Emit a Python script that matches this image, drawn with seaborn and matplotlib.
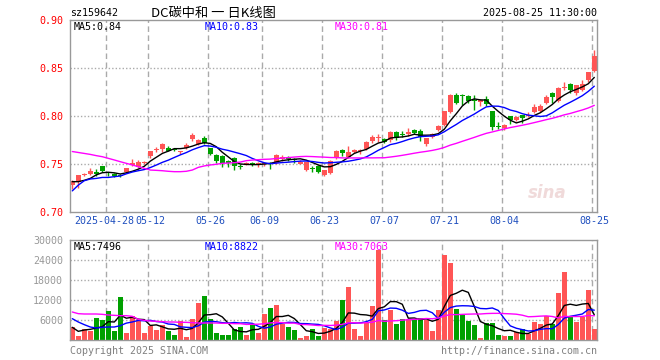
import numpy as np
import pandas as pd
import matplotlib
matplotlib.use("Agg")
import matplotlib.pyplot as plt
import matplotlib.transforms as mtransforms
import seaborn as sns

# ---------------- data ----------------
opens = [0.728, 0.7316, 0.739, 0.740, 0.742, 0.748, 0.742, 0.740, 0.739, 0.742,
         0.749, 0.747, 0.751, 0.758, 0.765, 0.766, 0.767, 0.766, 0.763, 0.767,
         0.776, 0.771, 0.777, 0.767, 0.759, 0.758, 0.753, 0.756, 0.748, 0.749,
         0.751, 0.749, 0.750, 0.751, 0.751, 0.755, 0.756, 0.755, 0.750, 0.744,
         0.746, 0.748, 0.739, 0.741, 0.756, 0.765, 0.757, 0.763, 0.764, 0.766,
         0.774, 0.777, 0.776, 0.775, 0.783, 0.781, 0.781, 0.785, 0.784, 0.7705,
         0.778, 0.785, 0.791, 0.804, 0.822, 0.822, 0.821, 0.817, 0.815, 0.818,
         0.805, 0.790, 0.787, 0.800, 0.796, 0.801, 0.800, 0.8045, 0.805, 0.814,
         0.824, 0.816, 0.829, 0.833, 0.824, 0.827, 0.837, 0.847]
highs = [0.733, 0.739, 0.741, 0.746, 0.745, 0.748, 0.742, 0.741, 0.740, 0.746,
         0.755, 0.754, 0.753, 0.764, 0.768, 0.772, 0.769, 0.767, 0.764, 0.772,
         0.782, 0.776, 0.779, 0.767, 0.760, 0.759, 0.754, 0.757, 0.750, 0.752,
         0.752, 0.752, 0.751, 0.752, 0.760, 0.759, 0.758, 0.756, 0.754, 0.752,
         0.748, 0.749, 0.744, 0.754, 0.765, 0.766, 0.769, 0.766, 0.766, 0.774,
         0.780, 0.781, 0.777, 0.784, 0.784, 0.784, 0.788, 0.786, 0.786, 0.777,
         0.782, 0.791, 0.805, 0.823, 0.824, 0.823, 0.822, 0.822, 0.818, 0.821,
         0.805, 0.794, 0.792, 0.800, 0.800, 0.801, 0.804, 0.812, 0.812, 0.822,
         0.825, 0.830, 0.835, 0.834, 0.832, 0.8375, 0.846, 0.869]
lows = [0.724, 0.725, 0.738, 0.739, 0.738, 0.742, 0.738, 0.736, 0.736, 0.741,
        0.748, 0.746, 0.750, 0.756, 0.763, 0.763, 0.764, 0.764, 0.760, 0.766,
        0.774, 0.770, 0.771, 0.759, 0.751, 0.747, 0.747, 0.744, 0.745, 0.749,
        0.748, 0.747, 0.748, 0.745, 0.750, 0.753, 0.753, 0.751, 0.750, 0.743,
        0.742, 0.741, 0.738, 0.740, 0.755, 0.758, 0.756, 0.761, 0.760, 0.765,
        0.772, 0.773, 0.772, 0.773, 0.775, 0.778, 0.779, 0.781, 0.774, 0.769,
        0.777, 0.784, 0.790, 0.803, 0.813, 0.8115, 0.814, 0.806, 0.810, 0.810,
        0.785, 0.786, 0.785, 0.792, 0.795, 0.793, 0.799, 0.8035, 0.804, 0.812,
        0.814, 0.815, 0.827, 0.824, 0.822, 0.826, 0.835, 0.846]
closes = [0.732, 0.7385, 0.740, 0.743, 0.740, 0.743, 0.741, 0.737, 0.737, 0.746,
          0.751, 0.752, 0.752, 0.764, 0.766, 0.771, 0.764, 0.765, 0.764, 0.770,
          0.780, 0.775, 0.772, 0.760, 0.753, 0.751, 0.751, 0.748, 0.747, 0.751,
          0.750, 0.751, 0.751, 0.750, 0.759, 0.757, 0.755, 0.754, 0.752, 0.752,
          0.745, 0.742, 0.744, 0.753, 0.764, 0.761, 0.762, 0.765, 0.765, 0.773,
          0.778, 0.778, 0.773, 0.783, 0.777, 0.780, 0.783, 0.782, 0.778, 0.777,
          0.781, 0.790, 0.805, 0.822, 0.814, 0.821, 0.816, 0.816, 0.817, 0.813,
          0.789, 0.789, 0.791, 0.796, 0.799, 0.798, 0.801, 0.809, 0.810, 0.820,
          0.820, 0.8295, 0.830, 0.827, 0.832, 0.833, 0.846, 0.863]
volumes = [3800, 1300, 3300, 2800, 6700, 5900, 8800, 2800, 13000, 2200,
           7300, 5900, 2200, 4200, 3100, 4400, 2800, 1600, 5800, 800,
           6400, 11200, 13300, 6300, 2200, 1600, 1600, 3400, 4000, 1600,
           4800, 2200, 7900, 9700, 10600, 4800, 4000, 3100, 700, 1300,
           3400, 1300, 3700, 3400, 5600, 12100, 15800, 3400, 1300, 5000,
           10300, 27100, 6100, 9100, 4900, 6400, 6200, 6400, 6600, 6100,
           2800, 9100, 25600, 23200, 9400, 7400, 5800, 4600, 600, 5200,
           5200, 1600, 1300, 1300, 2300, 3200, 1700, 5300, 4900, 7300,
           4900, 14200, 20500, 6800, 5500, 6900, 15100, 3400]

# moving-average values at the left edge (their windows start before the chart)
ma5_lead = [0.7316, 0.7316, 0.733, 0.735]
ma10_lead = [0.722, 0.728, 0.7326, 0.7344, 0.735, 0.736, 0.736, 0.7368, 0.7375]
ma30_lead = [0.763, 0.762, 0.761, 0.760, 0.7587, 0.7576, 0.7559, 0.7542, 0.7524, 0.7507,
             0.749, 0.7472, 0.7455, 0.7437, 0.7434, 0.743, 0.7424, 0.742, 0.742, 0.7424,
             0.7437, 0.7465, 0.748, 0.749, 0.7497, 0.7507, 0.751, 0.7514, 0.752]
vma5_lead = [3800, 2600, 3000, 3200]
vma10_lead = [6400, 5400, 4600, 3900, 3600, 3800, 3900, 3900, 4300]
vma30_lead = [8400, 7900, 7800, 7800, 7800, 7700, 7500, 7400, 7300, 7300,
              7100, 6200, 5900, 5700, 5600, 5500, 5400, 5400, 5300, 5300,
              5200, 5100, 5100, 5100, 5100, 5000, 5000, 4900, 4900]

date_ticks = [6, 13, 23, 32, 42, 52, 62, 72, 87]
date_labels = ["2025-04-28", "05-12", "05-26", "06-09", "06-23", "07-07", "07-21", "08-04", "08-25"]
price_ticks = [0.70, 0.75, 0.80, 0.85, 0.90]
price_labels = ["0.70", "0.75", "0.80", "0.85", "0.90"]
vol_ticks = [6000, 12000, 18000, 24000, 30000]
vol_labels = ["6000", "12000", "18000", "24000", "30000"]
price_ma_texts = ["MA5:0.84", "MA10:0.83", "MA30:0.81"]
vol_ma_texts = ["MA5:7496", "MA10:8822", "MA30:7063"]

# ---------------- styling ----------------
sns.set_theme(style="white")
plt.rcParams["font.family"] = ["DejaVu Sans Mono", "Noto Sans CJK SC"]

RED = "#ff5555"
GREEN = "#00a000"
GRID = "#aaaaaa"
MA_COLORS = ["#000000", "#0000ff", "#ff00ff"]
FS = 7.2

n = len(closes)
idx = np.arange(n)
o = np.array(opens); c = np.array(closes)
h = np.array(highs); l = np.array(lows)
v = np.array(volumes)
colors = [RED if cc >= oo else GREEN for oo, cc in zip(o, c)]


def moving(series, w, lead):
    s = pd.Series(series, dtype=float).rolling(w).mean().to_numpy()
    s[:w - 1] = lead
    return s


ma = [moving(c, 5, ma5_lead), moving(c, 10, ma10_lead), moving(c, 30, ma30_lead)]
vma = [moving(v, 5, vma5_lead), moving(v, 10, vma10_lead), moving(v, 30, vma30_lead)]

W, H = 660, 360
fig = plt.figure(figsize=(6.6, 3.6), dpi=100)
fig.patch.set_facecolor("white")
L, R = 70, 597
ax1 = fig.add_axes([L / W, (H - 212) / H, (R - L) / W, 192 / H])
ax2 = fig.add_axes([L / W, (H - 340) / H, (R - L) / W, 100 / H])

xlim = (-0.383, 87.45)
for ax in (ax1, ax2):
    ax.set_xlim(*xlim)
    ax.set_facecolor("white")
    for s in ax.spines.values():
        s.set_color("#999999")
        s.set_linewidth(1.0)
    ax.tick_params(length=0)
    for t in date_ticks:
        ax.axvline(t - 0.33, color=GRID, lw=1.0, ls=(0, (4, 2.5)), zorder=0)

# ---- price panel ----
ax1.set_ylim(0.70, 0.90)
for yv in price_ticks[1:-1]:
    ax1.axhline(yv, color=GRID, lw=1.0, ls=(0, (1, 1.5)), zorder=0)
ax1.vlines(idx, l, h, colors=colors, lw=1.0, zorder=2)
body_bottom = np.minimum(o, c)
body_h = np.maximum(np.abs(c - o), 0.0008)
ax1.bar(idx, body_h, bottom=body_bottom, width=0.8, color=colors, linewidth=0, zorder=2)
for series, col in zip(ma, MA_COLORS):
    sns.lineplot(x=idx, y=series, color=col, lw=1.0, ax=ax1, zorder=3)
ax1.set_yticks(price_ticks)
ax1.set_yticklabels(price_labels, color="#ff0000", fontsize=FS)
ax1.set_xticks(date_ticks)
ax1.set_xticklabels(date_labels, color="#1f4fbf", fontsize=FS)
ax1.tick_params(axis="x", pad=3)
ax1.tick_params(axis="y", pad=5)
ax1.set_xlabel(""); ax1.set_ylabel("")
# nudge the long first date label left so it does not run into "05-12"
first = ax1.get_xticklabels()[0]
first.set_transform(first.get_transform() +
                    mtransforms.ScaledTranslation(-4 / 100, 0, fig.dpi_scale_trans))
for txt, col, xp in zip(price_ma_texts, MA_COLORS, [74, 205, 335]):
    ax1.text((xp - L) / (R - L), 0.965, txt, transform=ax1.transAxes, color=col,
             fontsize=FS, ha="left", va="center")
ax1.text(0.905, 0.1, "sina", transform=ax1.transAxes, color="#f0dada", fontsize=12,
         fontweight="bold", style="italic", family="DejaVu Sans", ha="center", va="center")

# ---- volume panel ----
ax2.set_ylim(0, 30000)
for yv in vol_ticks[:-1]:
    ax2.axhline(yv, color=GRID, lw=1.0, ls=(0, (1, 1.5)), zorder=0)
ax2.bar(idx, v, width=0.8, color=colors, linewidth=0, zorder=2)
for series, col in zip(vma, MA_COLORS):
    sns.lineplot(x=idx, y=series, color=col, lw=1.0, ax=ax2, zorder=3)
ax2.set_yticks(vol_ticks)
ax2.set_yticklabels(vol_labels, color="#999999", fontsize=FS)
ax2.tick_params(axis="y", pad=5)
ax2.set_xticks([])
ax2.set_xlabel(""); ax2.set_ylabel("")
for txt, col, xp in zip(vol_ma_texts, MA_COLORS, [74, 205, 335]):
    ax2.text((xp - L) / (R - L), 0.93, txt, transform=ax2.transAxes, color=col,
             fontsize=FS, ha="left", va="center")

# ---- header / footer ----
fig.text(L / W, 1 - 13 / H, "sz159642", fontsize=FS, color="black", ha="left", va="center")
fig.text(213 / W, 1 - 13 / H, "DC碳中和 一 日K线图", fontsize=9.5, color="black",
         ha="center", va="center", family=["Noto Sans CJK SC", "DejaVu Sans"])
fig.text(R / W, 1 - 13 / H, "2025-08-25 11:30:00", fontsize=FS, color="black", ha="right", va="center")
fig.text(L / W, 1 - 351 / H, "Copyright 2025 SINA.COM", fontsize=FS, color="#808080", ha="left", va="center")
fig.text(R / W, 1 - 351 / H, "http://finance.sina.com.cn", fontsize=FS, color="#808080", ha="right", va="center")

fig.savefig("out.png", dpi=100, facecolor="white")
